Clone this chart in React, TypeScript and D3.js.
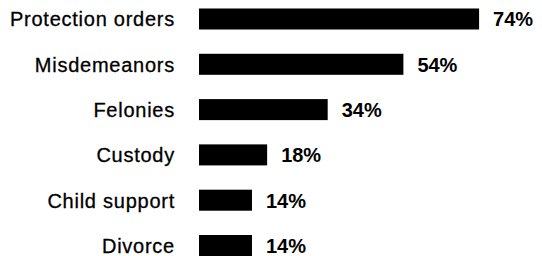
import React, { useEffect, useRef } from 'react';
import * as d3 from 'd3';

const categories = ['Protection orders', 'Misdemeanors', 'Felonies', 'Custody', 'Child support', 'Divorce'];
const values = [74, 54, 34, 18, 14, 14];

const App = () => {
  const ref = useRef<SVGSVGElement>(null);

  useEffect(() => {
    const svg = d3.select(ref.current);
    svg.selectAll('*').remove();

    const x = d3.scaleLinear().domain([0, 100]).range([199, 577.5]);
    const y = d3
      .scaleBand()
      .domain(categories)
      .range([-3.65, 268.15])
      .paddingInner(0.536)
      .paddingOuter(0.268);

    const data = categories.map((c, i) => ({ name: c, value: values[i] }));

    svg
      .selectAll('rect')
      .data(data)
      .enter()
      .append('rect')
      .attr('x', x(0))
      .attr('y', (d) => y(d.name))
      .attr('width', (d) => x(d.value) - x(0))
      .attr('height', y.bandwidth())
      .attr('fill', '#000');

    svg
      .selectAll('text.label')
      .data(data)
      .enter()
      .append('text')
      .attr('class', 'label')
      .attr('x', 175)
      .attr('y', (d) => y(d.name) + y.bandwidth() / 2 + 7.3)
      .attr('text-anchor', 'end')
      .attr('font-family', 'Liberation Sans, Arial, sans-serif')
      .attr('font-size', 20)
      .attr('letter-spacing', 0.75)
      .attr('fill', '#000')
      .attr('stroke', '#000')
      .attr('stroke-width', 0.3)
      .text((d) => d.name);

    svg
      .selectAll('text.value')
      .data(data)
      .enter()
      .append('text')
      .attr('class', 'value')
      .attr('x', (d) => x(d.value) + 14)
      .attr('y', (d) => y(d.name) + y.bandwidth() / 2 + 7.3)
      .attr('font-family', 'Liberation Sans, Arial, sans-serif')
      .attr('font-size', 20)
      .attr('font-weight', 'bold')
      .attr('fill', '#000')
      .text((d) => d.value + '%');
  }, []);

  return (
    <svg
      ref={ref}
      width="542"
      height="256"
      style={{ position: 'absolute', left: 0, top: 0, background: '#fff' }}></svg>
  );
};

export default App;
